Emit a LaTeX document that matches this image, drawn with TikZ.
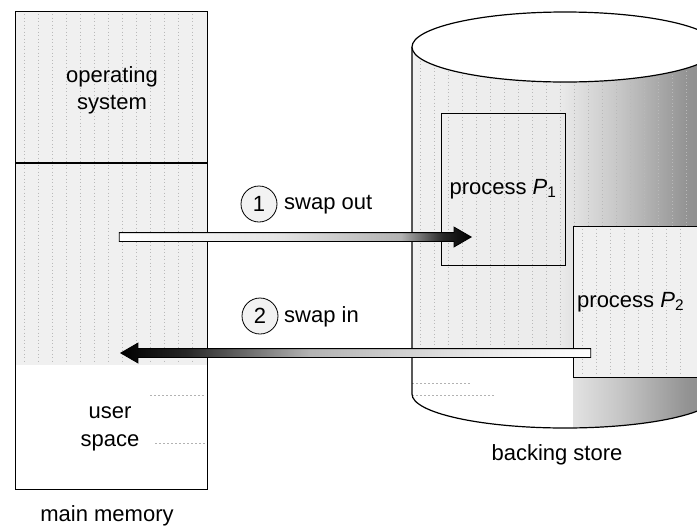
\documentclass[tikz,border=0pt]{standalone}
\usepackage{fontspec}
\setmainfont{Liberation Sans}
\usetikzlibrary{shapes.arrows}
\pgfdeclarehorizontalshading{cylsh}{100bp}{color(0bp)=(gray!12); color(25bp)=(gray!12); color(49bp)=(gray!16); color(59bp)=(gray!45); color(70bp)=(gray!85); color(75bp)=(gray!90); color(100bp)=(gray!90)}
\pgfdeclarehorizontalshading{outsh}{100bp}{color(0bp)=(white); color(25bp)=(white); color(47bp)=(gray!20); color(65bp)=(gray!60); color(71bp)=(black!85); color(75bp)=(black); color(100bp)=(black)}
\pgfdeclarehorizontalshading{insh}{100bp}{color(0bp)=(black); color(25bp)=(black); color(32bp)=(black!85); color(45bp)=(gray!60); color(62bp)=(gray!20); color(75bp)=(white); color(100bp)=(white)}
\begin{document}
\begin{tikzpicture}[x=1pt,y=-1pt,
  lbl/.style={font=\fontsize{22}{27}\selectfont, inner sep=0pt, align=center},
  tex/.style={draw=gray!55, line width=0.6pt, dash pattern=on 1pt off 2.5pt},
  faint/.style={draw=gray!60, line width=0.6pt, dash pattern=on 2pt off 2pt},
  outline/.style={draw=black, line width=1.2pt},
  blockarrow/.style={single arrow, draw=black, line width=0.8pt, shade, inner sep=4pt,
     single arrow head extend=5.5pt, single arrow tip angle=60, anchor=tip},
  numcirc/.style={circle, draw, line width=0.8pt, fill=gray!10, minimum size=36pt,
     inner sep=0pt, font=\fontsize{22}{22}\selectfont}
]
\useasboundingbox (0,0) rectangle (697,528);
% ---------- main memory ----------
\fill[gray!12] (15,11) rectangle (207,365);
\foreach \x in {24,38,...,200} \draw[tex] (\x,14) -- (\x,363);
\draw[faint] (150,395) -- (205,395) (155,443) -- (205,443);
\node[draw, line width=1.2pt, minimum width=192pt, minimum height=478pt, inner sep=0pt,
      anchor=north west] (mem) at (15,11) {};
\coordinate (osl) at (15,163);
\coordinate (osr) at (207,163);
\draw[line width=1.2pt] (osl) -- (osr);
\node[lbl] (os) at (112,90) {operating\\system};
\node[lbl, font=\fontsize{22}{28}\selectfont] (us) at (110,429) {user\\space};
\node[lbl] (mm) at (107,516) {main memory};
% ---------- backing store ----------
\begin{scope}
  \clip (0,0) rectangle (697,528);
  \begin{scope}
    \clip (412,47) -- (412,394) arc[start angle=180, end angle=0, x radius=153, y radius=34] -- (718,47) -- cycle;
    \shade[shading=cylsh] (412,10) rectangle (718,432);
    \foreach \x in {420,434,...,690} \draw[tex] (\x,50) -- (\x,350);
    \fill[white] (411,358) rectangle (573,432);
    \draw[faint] (412,383) -- (470,383) (412,395) -- (495,395);
  \end{scope}
  \draw[outline] (412,47) -- (412,394) arc[start angle=180, end angle=0, x radius=153, y radius=34];
  \draw[outline, fill=white] (565,47) ellipse[x radius=153, y radius=35];
  % process P2
  \fill[gray!12] (573,226) rectangle (697,377);
  \foreach \x in {582,596,...,690} \draw[tex] (\x,229) -- (\x,375);
  \coordinate (p2tr) at (697,226);
  \coordinate (p2tl) at (573,226);
  \coordinate (p2bl) at (573,377);
  \coordinate (p2br) at (697,377);
  \draw[line width=1pt] (p2tr) -- (p2tl) -- (p2bl) -- (p2br);
\end{scope}
\node[draw, line width=1pt, minimum width=124pt, minimum height=152pt, lbl] (p1) at (503,189)
   {process {\itshape P}\textsubscript{1}};
\node[lbl, anchor=west] (p2) at (577,302) {process {\itshape P}\textsubscript{2}};
\node[lbl] (bs) at (557,455) {backing store};
% ---------- arrows ----------
\node[blockarrow, shading=outsh, minimum height=352pt] (a1) at (472,237) {};
\node[blockarrow, shading=insh, shape border rotate=180, minimum height=470pt] (a2) at (120,353) {};
\node[numcirc] (c1) at (259,204) {1};
\node[lbl, anchor=west] (s1) at (284,205) {swap out};
\node[numcirc] (c2) at (260,316) {2};
\node[lbl, anchor=west] (s2) at (284,317) {swap in};
\end{tikzpicture}
\end{document}
